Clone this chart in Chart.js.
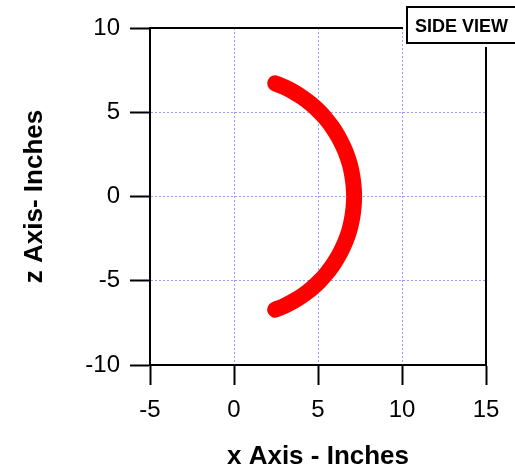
<!DOCTYPE html>
<html>
<head>
<meta charset="utf-8">
<script src="https://cdn.jsdelivr.net/npm/chart.js@4"></script>
<style>
  body { margin: 0; background: #fff; }
</style>
</head>
<body>
<canvas id="sideChart" width="515" height="470"></canvas>
<script>
// Side view of the arc (inches)
const xInches = [2.45, 3.02, 3.58, 4.10, 4.60, 5.06, 5.48, 5.86, 6.19, 6.48, 6.72, 6.91, 7.04, 7.12, 7.15,
                 7.12, 7.04, 6.91, 6.72, 6.48, 6.19, 5.86, 5.48, 5.06, 4.60, 4.10, 3.58, 3.02, 2.45];
const zInches = [6.72, 6.48, 6.19, 5.86, 5.48, 5.06, 4.60, 4.10, 3.58, 3.02, 2.45, 1.85, 1.24, 0.62, 0,
                 -0.62, -1.24, -1.85, -2.45, -3.02, -3.58, -4.10, -4.60, -5.06, -5.48, -5.86, -6.19, -6.48, -6.72];
const xTicks = [-5, 0, 5, 10, 15];
const zTicks = [-10, -5, 0, 5, 10];
const viewLabel = 'SIDE VIEW';

Chart.defaults.font.family = '"Liberation Sans", Arial, sans-serif';
Chart.defaults.color = '#000';

// top/right frame lines and the view label box
const frameBox = {
    id: 'frameBox',
    afterDraw(chart) {
        const { ctx, chartArea: a } = chart;
        ctx.save();
        ctx.strokeStyle = '#000';
        ctx.lineWidth = 2;
        ctx.beginPath();
        ctx.moveTo(a.left, a.top);
        ctx.lineTo(a.right, a.top);
        ctx.lineTo(a.right, a.bottom);
        ctx.stroke();
        ctx.fillStyle = '#fff';
        ctx.fillRect(a.right - 83, 2, 120, 45);
        ctx.strokeRect(a.right - 79, 7, 120, 36);
        ctx.fillStyle = '#000';
        ctx.font = 'bold 18px "Liberation Sans", Arial, sans-serif';
        ctx.textAlign = 'left';
        ctx.textBaseline = 'alphabetic';
        ctx.fillText(viewLabel, a.right - 71, 32);
        ctx.restore();
    }
};

const points = xInches.map((x, i) => ({ x: x, y: zInches[i] }));

const ctx = document.getElementById('sideChart').getContext('2d');
const sideChart = new Chart(ctx, {
    type: 'scatter',
    data: {
        datasets: [{
            data: points,
            showLine: true,
            borderColor: '#ff0000',
            backgroundColor: '#ff0000',
            borderWidth: 16,
            borderCapStyle: 'round',
            borderJoinStyle: 'round',
            tension: 0.4,
            pointRadius: 0
        }]
    },
    plugins: [frameBox],
    options: {
        responsive: false,
        animation: false,
        layout: { padding: { top: 28, right: 29, left: 0, bottom: 0 } },
        plugins: {
            legend: { display: false },
            tooltip: { enabled: false }
        },
        scales: {
            x: {
                type: 'linear',
                min: xTicks[0],
                max: xTicks[xTicks.length - 1],
                afterBuildTicks: (s) => { s.ticks = xTicks.map(v => ({ value: v })); },
                afterFit: (s) => { s.height = 105; },
                ticks: { font: { size: 24 }, padding: 11, maxRotation: 0 },
                grid: {
                    color: '#9999ff',
                    lineWidth: 1,
                    tickLength: 20,
                    tickColor: '#000',
                    tickWidth: 2
                },
                border: { color: '#000', width: 2, dash: [2, 2] },
                title: {
                    display: true,
                    text: 'x Axis - Inches',
                    font: { size: 26, weight: 'bold', lineHeight: 1 },
                    padding: { top: 0, bottom: 0 }
                }
            },
            y: {
                type: 'linear',
                min: zTicks[0],
                max: zTicks[zTicks.length - 1],
                afterBuildTicks: (s) => { s.ticks = zTicks.map(v => ({ value: v })); },
                afterFit: (s) => { s.width = 150; },
                ticks: { font: { size: 24 }, padding: 10 },
                grid: {
                    color: '#9999ff',
                    lineWidth: 1,
                    tickLength: 20,
                    tickColor: '#000',
                    tickWidth: 2
                },
                border: { color: '#000', width: 2, dash: [2, 2] },
                title: {
                    display: true,
                    text: 'z Axis- Inches',
                    font: { size: 26, weight: 'bold', lineHeight: 1 },
                    padding: { top: 22, bottom: 0 }
                }
            }
        }
    }
});
</script>
</body>
</html>
